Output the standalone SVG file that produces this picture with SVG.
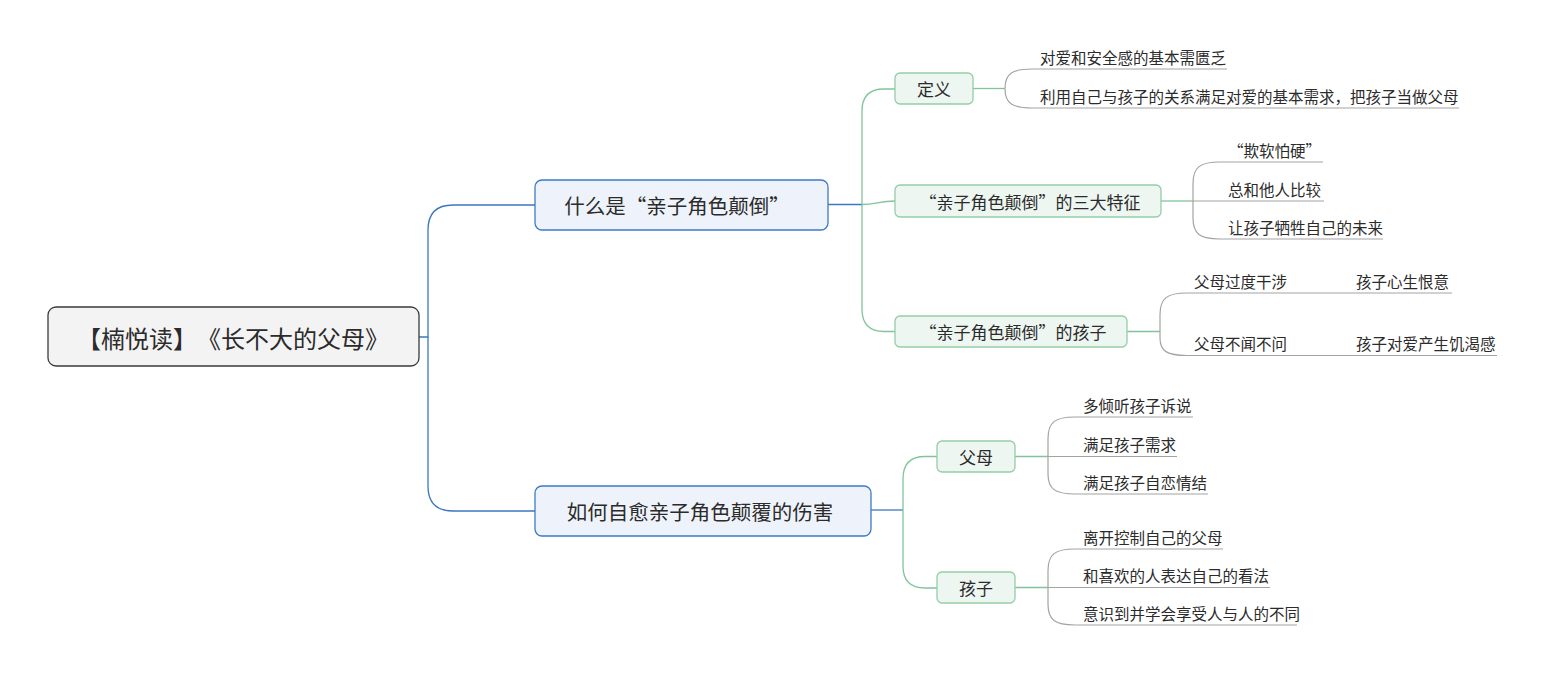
<svg xmlns="http://www.w3.org/2000/svg" width="1544" height="674" viewBox="0 0 1544 674">
<style>
text{font-family:"Noto Sans CJK SC","Liberation Sans",sans-serif;fill:#2b2b2b}
.root rect{fill:#f3f3f3;stroke:#3a3a3a;stroke-width:1.3}
.root text{font-size:24px;text-spacing-trim:space-all;font-feature-settings:"halt" 0,"chws" 0}
.l1 rect{fill:#eef3fb;stroke:#3d7bc6;stroke-width:1.3}
.l1 text{font-size:20.5px}
.l2 rect{fill:#edf6f0;stroke:#92cfa7;stroke-width:1.3}
.l2 text{font-size:17px}
.leaf text{font-size:15.5px}
.c{dominant-baseline:central;text-anchor:middle}
.blue{fill:none;stroke:#3d77c0;stroke-width:1.3}
.green{fill:none;stroke:#82c49a;stroke-width:1.3}
.gray{fill:none;stroke:#a3a3a3;stroke-width:1.2}
</style>
<rect width="1544" height="674" fill="#ffffff"/>
<g id="connectors">
  <path class="blue" d="M419,337 H428 V230 Q428,205 453,205 H535"/>
  <path class="blue" d="M428,337 V486 Q428,511 453,511 H535"/>
  <path class="blue" d="M828,204.5 H862"/>
  <path class="blue" d="M871,510 H903"/>
  <path class="green" d="M862,204.5 V111 Q862,89 884,89 H895"/>
  <path class="green" d="M862,204.5 C876,204.5 879,201 895,201"/>
  <path class="green" d="M862,204.5 V309 Q862,331.5 884,331.5 H895"/>
  <path class="green" d="M903,510 V479 Q903,456.5 925,456.5 H937"/>
  <path class="green" d="M903,510 V566 Q903,588 925,588 H937"/>
  <path class="green" d="M973,88.5 H1005"/>
  <path class="green" d="M1161,201 H1193"/>
  <path class="green" d="M1127,331.5 H1160"/>
  <path class="green" d="M1015,456.5 H1048"/>
  <path class="green" d="M1015,587.5 H1048"/>
  <path class="gray" d="M1005,88.5 C1005,73 1013,69 1032,69 H1227"/>
  <path class="gray" d="M1005,88.5 C1005,104 1013,108 1032,108 H1459"/>
  <path class="gray" d="M1193,201 V184 C1193,167 1200,162 1220,162 H1323"/>
  <path class="gray" d="M1193,201 H1324"/>
  <path class="gray" d="M1193,201 V218 C1193,234 1200,239 1220,239 H1383"/>
  <path class="gray" d="M1160,331.5 V315 C1160,298 1167,293 1187,293 H1452"/>
  <path class="gray" d="M1160,331.5 V338 C1160,351 1167,355.5 1187,355.5 H1497"/>
  <path class="gray" d="M1048,456.5 V439 C1048,422 1055,417 1075,417 H1193"/>
  <path class="gray" d="M1048,456.5 H1177"/>
  <path class="gray" d="M1048,456.5 V474 C1048,489 1055,494 1075,494 H1208"/>
  <path class="gray" d="M1048,587.5 V571 C1048,554 1055,549 1075,549 H1223"/>
  <path class="gray" d="M1048,587.5 H1270"/>
  <path class="gray" d="M1048,587.5 V604 C1048,620 1055,625 1075,625 H1297"/>
</g>
<g id="root" class="root">
  <rect x="48" y="307" width="371" height="59" rx="8"/>
  <text class="c" x="233" y="337">【楠悦读】《长不大的父母》</text>
</g>
<g id="n1" class="l1">
  <rect x="535" y="180" width="293" height="50" rx="7"/>
  <text class="c" x="677" y="205">什么是“亲子角色颠倒”</text>
</g>
<g id="n2" class="l1">
  <rect x="535" y="486" width="336" height="50" rx="7"/>
  <text class="c" x="700" y="511">如何自愈亲子角色颠覆的伤害</text>
</g>
<g id="n1a" class="l2">
  <rect x="895" y="73" width="78" height="31" rx="5"/>
  <text class="c" x="934" y="88.5">定义</text>
</g>
<g id="n1b" class="l2">
  <rect x="895" y="185" width="266" height="32" rx="5"/>
  <text class="c" x="1030" y="201">“亲子角色颠倒”的三大特征</text>
</g>
<g id="n1c" class="l2">
  <rect x="895" y="316" width="232" height="31" rx="5"/>
  <text class="c" x="1013" y="331.5">“亲子角色颠倒”的孩子</text>
</g>
<g id="n2a" class="l2">
  <rect x="937" y="441" width="78" height="31" rx="5"/>
  <text class="c" x="976" y="456.5">父母</text>
</g>
<g id="n2b" class="l2">
  <rect x="937" y="572" width="78" height="31" rx="5"/>
  <text class="c" x="976" y="587.5">孩子</text>
</g>
<g id="leaf1" class="leaf"><text x="1040" y="64">对爱和安全感的基本需匮乏</text></g>
<g id="leaf2" class="leaf"><text x="1040" y="103">利用自己与孩子的关系满足对爱的基本需求，把孩子当做父母</text></g>
<g id="leaf3" class="leaf"><text x="1228" y="157">“欺软怕硬”</text></g>
<g id="leaf4" class="leaf"><text x="1228" y="195.5">总和他人比较</text></g>
<g id="leaf5" class="leaf"><text x="1228" y="233.5">让孩子牺牲自己的未来</text></g>
<g id="leaf6" class="leaf"><text x="1194" y="288">父母过度干涉</text></g>
<g id="leaf7" class="leaf"><text x="1356" y="288">孩子心生恨意</text></g>
<g id="leaf8" class="leaf"><text x="1194" y="350">父母不闻不问</text></g>
<g id="leaf9" class="leaf"><text x="1356" y="350">孩子对爱产生饥渴感</text></g>
<g id="leaf10" class="leaf"><text x="1083" y="411.5">多倾听孩子诉说</text></g>
<g id="leaf11" class="leaf"><text x="1083" y="451">满足孩子需求</text></g>
<g id="leaf12" class="leaf"><text x="1083" y="489">满足孩子自恋情结</text></g>
<g id="leaf13" class="leaf"><text x="1083" y="543.5">离开控制自己的父母</text></g>
<g id="leaf14" class="leaf"><text x="1083" y="582">和喜欢的人表达自己的看法</text></g>
<g id="leaf15" class="leaf"><text x="1083" y="619.5">意识到并学会享受人与人的不同</text></g>
</svg>
